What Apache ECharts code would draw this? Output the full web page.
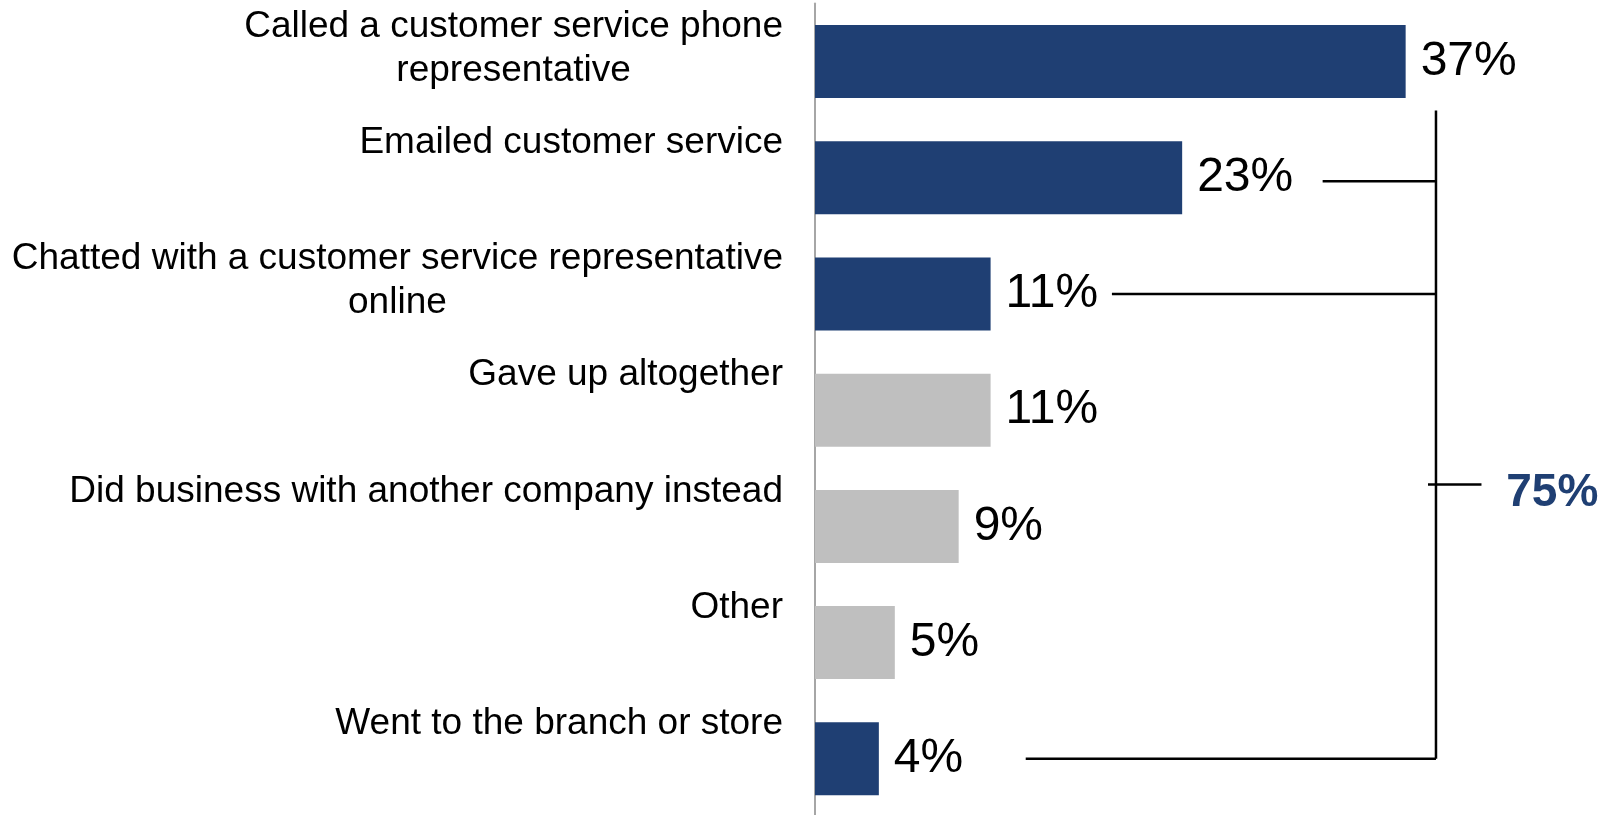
<!DOCTYPE html>
<html>
<head>
<meta charset="utf-8">
<script src="https://cdn.jsdelivr.net/npm/echarts@6/dist/echarts.min.js"></script>
<style>
  html, body { margin: 0; padding: 0; background: #ffffff; }
  #chart { width: 1602px; height: 815px; }
</style>
</head>
<body>
<div id="chart"></div>
<script>
// Survey responses: what people did when they could not resolve an issue online
const categories = [
  'Called a customer service phone\nrepresentative',
  'Emailed customer service',
  'Chatted with a customer service representative\nonline',
  'Gave up altogether',
  'Did business with another company instead',
  'Other',
  'Went to the branch or store'
];
const shares = [37, 23, 11, 11, 9, 5, 4];
// Responses that count toward the bracketed total
const contacted = [true, true, true, false, false, false, true];

const BLUE = '#1f3f73';
const GREY = '#bfbfbf';
const FONT = '"Liberation Sans", Arial, sans-serif';

// Bracket layout, in axis units (x: percent, y: category index)
const bracket = {
  x: 38.9,
  top: 0.42,
  legs: [ { row: 1.03, from: 31.8 }, { row: 2, from: 18.6 }, { row: 6, from: 13.2 } ],
  tickRow: 3.64,
  tickFrom: 38.4,
  tickTo: 41.75,
  labelX: 43.3
};

const contactedTotal = shares.reduce((s, v, i) => s + (contacted[i] ? v : 0), 0);

// Category labels: lines centred within a right-aligned block, first line
// sitting above the bar centre.
function categoryLabel(value) {
  const lines = value.split('\n');
  let out = lines.map(l => '{t|' + l + '}');
  if (lines.length === 1) out.push('{t| }');
  out.push('{s| }');
  return out.join('\n');
}

const chart = echarts.init(document.getElementById('chart'));

chart.setOption({
  animation: false,
  backgroundColor: '#ffffff',
  grid: { left: 815, top: 3.5, width: 787, height: 813.4, containLabel: false, outerBoundsMode: 'none' },
  xAxis: {
    type: 'value', min: 0, max: 49.3, show: false
  },
  yAxis: {
    type: 'category',
    data: categories,
    inverse: true,
    axisTick: { show: false },
    axisLine: { show: true, lineStyle: { color: '#a6a6a6', width: 2 } },
    splitLine: { show: false },
    axisLabel: {
      interval: 0,
      hideOverlap: false,
      margin: 32,
      align: 'right',
      verticalAlign: 'middle',
      formatter: categoryLabel,
      rich: {
        t: { fontFamily: FONT, fontSize: 37, lineHeight: 44, color: '#000000', align: 'center' },
        s: { fontFamily: FONT, fontSize: 2, lineHeight: 26 }
      }
    }
  },
  series: [
    {
      type: 'bar',
      barWidth: 73,
      data: shares.map((v, i) => ({
        value: v,
        itemStyle: { color: contacted[i] ? BLUE : GREY }
      })),
      label: {
        show: true,
        position: 'right',
        distance: 15,
        formatter: '{c}%',
        fontFamily: FONT,
        fontSize: 48,
        color: '#000000'
      }
    },
    {
      type: 'custom',
      silent: true,
      data: [[0, 0]],
      encode: { x: 0, y: 1 },
      renderItem: function (params, api) {
        const a = api.coord([0, 0]);
        const b = api.coord([0, 1]);
        const rowY = k => a[1] + k * (b[1] - a[1]);
        const px = v => api.coord([v, 0])[0];
        const lineStyle = { stroke: '#000000', lineWidth: 2.5 };
        const bottomRow = bracket.legs[bracket.legs.length - 1].row;
        const children = [
          { type: 'line', shape: { x1: px(bracket.x), y1: rowY(bracket.top), x2: px(bracket.x), y2: rowY(bottomRow) }, style: lineStyle }
        ];
        bracket.legs.forEach(leg => {
          children.push({
            type: 'line',
            shape: { x1: px(leg.from), y1: rowY(leg.row), x2: px(bracket.x), y2: rowY(leg.row) },
            style: lineStyle
          });
        });
        children.push({
          type: 'line',
          shape: { x1: px(bracket.tickFrom), y1: rowY(bracket.tickRow), x2: px(bracket.tickTo), y2: rowY(bracket.tickRow) },
          style: lineStyle
        });
        children.push({
          type: 'text',
          style: {
            text: contactedTotal + '%',
            x: px(bracket.labelX),
            y: rowY(bracket.tickRow) + 9,
            fill: BLUE,
            fontFamily: FONT,
            fontWeight: 'bold',
            fontSize: 46,
            align: 'left',
            verticalAlign: 'middle'
          }
        });
        return { type: 'group', children: children };
      }
    }
  ]
});
</script>
</body>
</html>
